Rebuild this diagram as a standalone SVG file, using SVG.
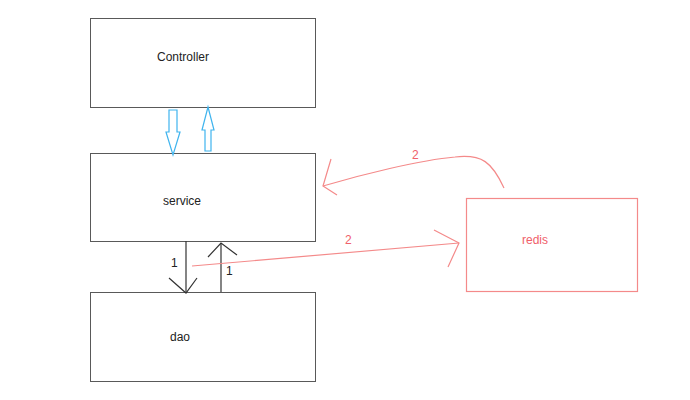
<svg xmlns="http://www.w3.org/2000/svg" width="690" height="400" viewBox="0 0 690 400">
<defs>
<style>
.box{fill:#fff;stroke:#595959;stroke-width:1}
.rbox{fill:#fff;stroke:#f48a8a;stroke-width:1.2}
.t{font-family:"Liberation Sans","DejaVu Sans",sans-serif;font-size:12px;fill:#222}
.rt{font-family:"Liberation Sans","DejaVu Sans",sans-serif;font-size:12px;fill:#f0606a}
.blk{fill:none;stroke:#333;stroke-width:1.2}
.red{fill:none;stroke:#f48a8a;stroke-width:1.2}
.blue{fill:#fff;stroke:#3fb4ee;stroke-width:1.2}
</style>
</defs>
<rect width="690" height="400" fill="#fff"/>
<g id="controller">
<rect class="box" x="90.5" y="18.5" width="225" height="89"/>
<text class="t" x="157" y="61">Controller</text>
</g>
<g id="service">
<rect class="box" x="90.5" y="153.5" width="225" height="88"/>
<text class="t" x="163" y="205">service</text>
</g>
<g id="dao">
<rect class="box" x="90.5" y="292.5" width="225" height="89"/>
<text class="t" x="170" y="341">dao</text>
</g>
<g id="redis">
<rect class="rbox" x="466.5" y="198.5" width="171" height="93"/>
<text class="rt" x="522" y="244">redis</text>
</g>
<g id="connectors">
<polygon class="blue" points="169,110 177,110 177,132 180,132 173,155 166,132 169,132"/>
<polygon class="blue" points="205,151 211,151 211,130 214,130 208,107 202,130 205,130"/>
<line class="blk" x1="186" y1="241" x2="186" y2="293"/>
<polyline class="blk" points="169,278 186,293 197,278"/>
<line class="blk" x1="221" y1="292" x2="221" y2="243"/>
<polyline class="blk" points="208,257 221,243 237,255"/>
<text class="t" x="171" y="267">1</text>
<text class="t" x="226" y="275">1</text>
<line class="red" x1="192" y1="266" x2="459" y2="243"/>
<polyline class="red" points="434,230 459,243 448,267"/>
<text class="rt" x="345" y="244">2</text>
<path class="red" d="M504,188 C492,162 482,154 455,157 C420,160 360,175 323,186"/>
<polyline class="red" points="331,159 323,186 337,195"/>
<text class="rt" x="412" y="159">2</text>
</g>
</svg>
